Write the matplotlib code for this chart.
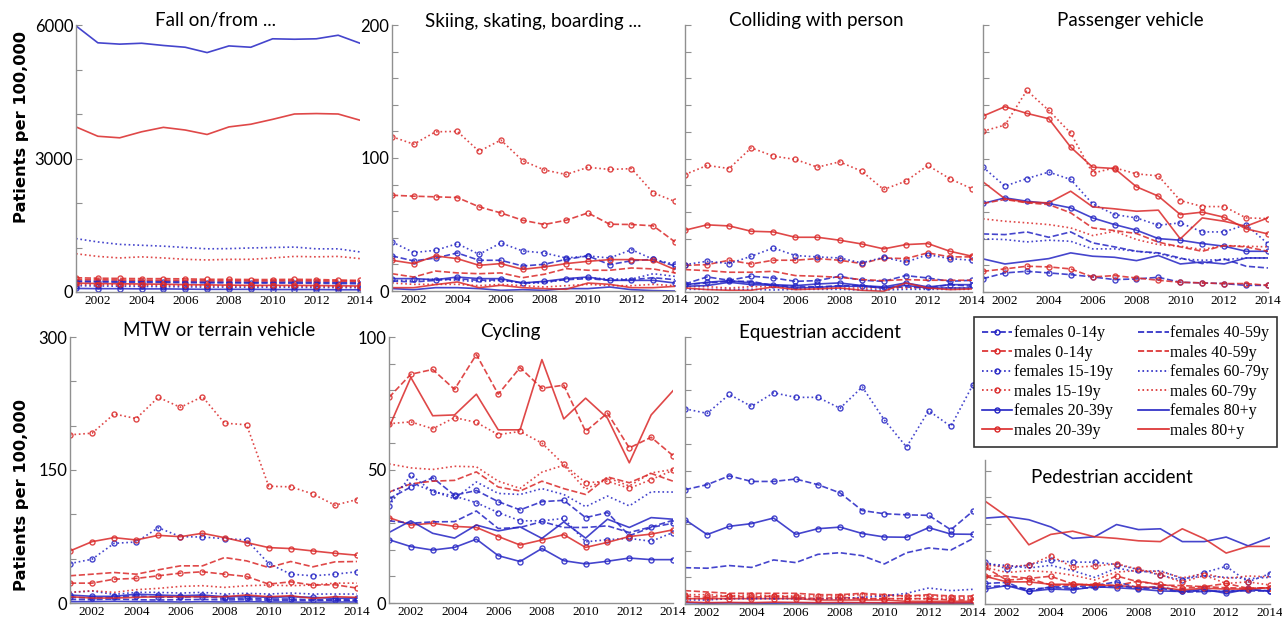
import numpy as np
import matplotlib
matplotlib.use('Agg')
import matplotlib.pyplot as plt
from matplotlib.lines import Line2D

# Years on the x axis
years = np.arange(2001, 2015)

# Series order: f 0-14, m 0-14, f 15-19, m 15-19, f 20-39, m 20-39,
#               f 40-59, m 40-59, f 60-79, m 60-79, f 80+, m 80+
labels = ['females 0-14y', 'males 0-14y', 'females 15-19y', 'males 15-19y',
          'females 20-39y', 'males 20-39y', 'females 40-59y', 'males 40-59y',
          'females 60-79y', 'males 60-79y', 'females 80+y', 'males 80+y']

fall = [
    [230, 225, 220, 215, 215, 210, 205, 205, 200, 200, 200, 195, 190, 185],
    [320, 310, 305, 300, 300, 295, 285, 285, 280, 280, 285, 280, 270, 260],
    [140, 135, 130, 125, 120, 115, 110, 110, 105, 105, 105, 100, 100, 95],
    [170, 165, 160, 155, 150, 145, 140, 135, 135, 130, 130, 125, 120, 115],
    [80, 75, 75, 70, 70, 65, 60, 60, 60, 55, 55, 55, 50, 50],
    [200, 190, 185, 180, 175, 165, 160, 155, 150, 150, 150, 145, 140, 135],
    [250, 245, 240, 240, 235, 230, 225, 225, 220, 220, 225, 220, 215, 210],
    [280, 275, 270, 265, 265, 260, 255, 255, 250, 250, 255, 250, 245, 240],
    [1200, 1125, 1070, 1050, 1030, 1000, 970, 975, 990, 1000, 1010, 970, 970, 900],
    [860, 800, 765, 790, 765, 735, 720, 735, 735, 765, 800, 790, 800, 750],
    [5980, 5600, 5570, 5590, 5540, 5500, 5380, 5530, 5500, 5690, 5680, 5690, 5770, 5590],
    [3710, 3500, 3465, 3600, 3700, 3640, 3540, 3710, 3770, 3880, 4000, 4010, 4000, 3860],
]

skiing = [
    [26.4, 22.6, 24.8, 28.6, 23.1, 23.1, 18.8, 20.1, 23.8, 26.4, 19.8, 22.8, 23.8, 18.8],
    [72, 71.3, 70.8, 70.3, 63.3, 58.7, 53.2, 50, 53.2, 58.7, 50.2, 50, 49, 36.9],
    [36.9, 28.9, 30.6, 35.6, 27.6, 36.1, 30.1, 28.6, 24.8, 26.4, 24.8, 31.1, 23.8, 20.1],
    [116, 110.4, 119.7, 120, 105, 113.5, 98, 91, 87.6, 93, 91.4, 92, 73.8, 67.3],
    [9.3, 9.3, 8.5, 10.5, 9.3, 9.3, 6, 7.3, 9.3, 10.5, 8, 8, 8, 6],
    [23.1, 20.6, 26.4, 24.3, 19.3, 20.6, 16.3, 18.1, 20.6, 22.3, 23.6, 23.6, 23.1, 16.1],
    [7.5, 6.8, 8, 9.3, 8, 8.5, 6, 6.8, 8.5, 9.3, 8, 8.5, 10, 8.5],
    [13, 10.5, 15, 13.6, 13, 13.6, 10, 12.6, 16.8, 15.6, 15.6, 17.3, 16.6, 13.6],
    [8, 8, 9, 8, 7, 8, 6, 6, 9, 10, 9, 9, 13, 11],
    [6, 5, 5, 5, 4, 5, 4, 3, 4, 5, 4, 4, 5, 4],
    [1.8, 1, 2.5, 2.5, 1.8, 0.5, 1, 0.5, 1.8, 1.8, 3, 1, 0.3, 0],
    [2.5, 2.5, 4.8, 6.8, 2.5, 4.3, 2.5, 1.8, 1.3, 6, 5, 2.5, 2.5, 3.5],
]

colliding = [
    [6, 11.3, 8.8, 11.8, 10.5, 8, 8.5, 11.8, 8.8, 8, 12.3, 10.5, 8, 8.8],
    [20, 20.5, 23.8, 21, 23.8, 23.8, 25, 23.8, 21.3, 25.5, 25, 29.3, 26.3, 26.3],
    [20.5, 23, 21.3, 26.8, 33, 27.3, 26.3, 25.5, 21.8, 26, 22.3, 28, 25, 23.8],
    [88, 94.8, 92.5, 108, 101.8, 99.3, 93.5, 97.5, 90.5, 76.8, 83, 94.8, 84.8, 77.3],
    [5.5, 7.3, 8.5, 6.8, 5.5, 4.8, 6, 6.8, 4.8, 3.8, 6.8, 3.8, 5.5, 5.5],
    [46.3, 50.3, 49.5, 45.5, 45, 41, 41, 38.8, 36, 32.3, 35.5, 36.3, 30.5, 26.8],
    [5.5, 6.8, 8, 8, 4.8, 4.3, 3.8, 4.8, 4.8, 3, 3.8, 3, 5.5, 4.3],
    [16.8, 16, 14.8, 14.8, 15.5, 12.3, 11.8, 11, 9.3, 8.5, 9.3, 8.8, 8.8, 8.8],
    [2, 2, 2, 2, 1.5, 2, 2, 2, 1.5, 1.5, 2, 2, 2, 2],
    [4, 4, 3, 4, 4, 3, 3, 3, 3, 3, 3, 3, 3, 3],
    [4.3, 4.8, 7.3, 5.5, 5, 3, 3.5, 4.3, 4.3, 3, 5, 3, 3, 3],
    [3, 1.8, 1.3, 1.3, 3.8, 1.8, 2.3, 3, 1.3, 0.5, 6.8, 3, 1.8, 2.3],
]

passenger = [
    [10, 14.3, 15.5, 14.3, 13, 11.3, 9.3, 9.8, 11, 7.3, 6.8, 6.3, 5, 5],
    [15.5, 17.3, 19.3, 18.8, 17.3, 11.3, 12.3, 10.5, 8.8, 7.3, 6.8, 6.3, 6.3, 5],
    [93.5, 79.3, 85, 89.8, 84.3, 66, 58, 55.5, 50, 51.8, 45, 45, 50.5, 36],
    [120.5, 125, 151, 136, 119, 89, 93, 88.5, 87, 68.5, 64, 64, 55.5, 55],
    [66.3, 70.5, 68, 66.3, 63, 55.5, 50.5, 46.3, 40, 38.8, 36.3, 34.3, 30.5, 30.5],
    [131.8, 138.8, 133.8, 129.8, 108.5, 93.5, 92.5, 78.8, 71.8, 58, 59.8, 56, 47.3, 43.5],
    [43.5, 43, 45, 41, 45, 36.8, 33.8, 30.5, 29.3, 25.5, 21.3, 24.8, 19.3, 18],
    [66.3, 69.3, 66.8, 65.5, 59.3, 48, 46, 43.8, 37.3, 33.8, 30.5, 34.8, 33.8, 30.5],
    [39.8, 39.3, 37.5, 38.8, 38, 32.3, 32.3, 30.5, 28.8, 24.8, 23.8, 24.3, 25.5, 25.5],
    [54.8, 53, 51.8, 50.5, 48, 42.3, 45.5, 39.3, 35.5, 34.3, 31.8, 34.8, 34.3, 33.8],
    [24.8, 21, 23, 25, 29.3, 26.8, 26, 23.5, 27.3, 21, 22.5, 21, 25.5, 25.5],
    [82.5, 69.8, 67.3, 66.8, 75.5, 63.8, 62.3, 60.5, 61.3, 39.8, 55.5, 53, 49.3, 55.5],
]

mtw = [
    [6.5, 5.6, 6.5, 8.2, 6.5, 6.5, 7.1, 5.2, 5.6, 4.5, 4.5, 3.7, 3.7, 3.4],
    [22.4, 22.4, 26.9, 27.7, 30.7, 33.7, 35.2, 32.5, 29.9, 21.3, 23.9, 20.2, 20.6, 16.8],
    [44.5, 49.4, 67.3, 68.8, 84.9, 74.8, 74.4, 72.6, 71.1, 44.5, 32.5, 30.7, 32.5, 35.2],
    [189.7, 191.5, 213.2, 208, 232, 220.7, 232.7, 202.8, 201, 131.7, 131, 123, 110.3, 116.7],
    [9, 7.5, 7.5, 10, 9, 8.2, 9, 7, 7.5, 6.4, 7, 6.4, 5.2, 5.6],
    [58.7, 69.2, 73.7, 71.1, 76.3, 74.8, 78.6, 73.7, 68.1, 62.5, 61.4, 58.7, 56.1, 53.9],
    [4, 3.7, 4.5, 3.7, 3.4, 3.7, 4, 3.4, 3.7, 3, 3, 2.6, 3, 2.6],
    [30.7, 32.5, 34.4, 32.5, 37.4, 41.9, 41.9, 51.3, 47.5, 40, 46.8, 40.8, 46.4, 46.8],
    [12, 13.5, 9.7, 12, 12, 11.2, 12, 10.1, 10.9, 10.1, 11.2, 10.1, 10.1, 10.1],
    [12, 13.8, 12, 15, 16.5, 18.7, 19.5, 17.6, 19.5, 20.2, 19.5, 20.2, 22.4, 22.4],
    [1.5, 1.5, 1.9, 1.5, 1.5, 1.1, 1.5, 1.1, 1.5, 1.1, 1.1, 0.7, 1.1, 1.1],
    [7.1, 5.6, 5.6, 6.4, 7.1, 7.1, 7.1, 7.1, 9, 7.1, 8.2, 5.2, 7.1, 6.4],
]

cycling = [
    [39.2, 43.6, 47.1, 40.5, 42.3, 38.1, 35, 38.1, 38.6, 32.1, 34, 25.3, 28.4, 30],
    [77.3, 86, 87.8, 80.3, 93.4, 78.5, 88.5, 80.7, 81.9, 64.5, 71.4, 58.3, 62.3, 55.4],
    [36.5, 48.1, 41.9, 40.2, 37.7, 34, 30.9, 30.9, 31.8, 23, 23.8, 24.3, 23.2, 26.5],
    [67.4, 68.1, 65.5, 69.7, 67.9, 63.3, 64.5, 60.1, 52.1, 45.2, 45.8, 43.1, 46.4, 49.9],
    [23.8, 21.2, 19.9, 20.9, 24, 17.8, 15.6, 20.5, 15.9, 14.7, 15.7, 16.9, 16.3, 16.3],
    [32.1, 29.3, 30, 28.8, 28.4, 25, 21.8, 23.7, 25.7, 20.9, 22.8, 25, 25.9, 27.5],
    [30.9, 30, 30.5, 30.6, 34.6, 28, 28.4, 30.6, 28.4, 28.4, 29, 26.5, 28.6, 31.1],
    [41.7, 44.8, 45.8, 46.1, 49.3, 43.6, 42.1, 45.8, 43, 40.8, 47.4, 45.2, 48.7, 45.8],
    [41.5, 45.2, 42.1, 39.2, 45.5, 41.2, 40.8, 43, 40.8, 36.2, 40.2, 36.5, 41.8, 41.7],
    [52.3, 50.8, 50.2, 51.4, 51.2, 45.8, 43.1, 49.2, 51.8, 42.7, 47.1, 44, 48.9, 50.2],
    [26.5, 30.9, 26.2, 24.4, 29.3, 27.1, 28.6, 24.3, 30.5, 24.4, 31.5, 28.4, 32.1, 31.5],
    [66, 84.8, 70.4, 70.7, 78.5, 65.1, 65.1, 91.5, 69.2, 77, 69.5, 52.7, 70.7, 79.8],
]

equestrian = [
    [42.8, 44.7, 48, 45.9, 45.9, 46.8, 44.7, 41.6, 35, 33.8, 33.4, 33.2, 27.8, 34.8],
    [3, 2.5, 3, 2.5, 3, 2.5, 2, 2.5, 2, 2, 2, 2, 1.5, 1.5],
    [73.1, 71.4, 78.5, 74, 79.1, 77.4, 77.4, 73.3, 81.3, 68.9, 58.8, 72.4, 66.5, 82.2],
    [3.5, 3.5, 3, 3.5, 3, 3, 3, 3, 3.5, 3, 3, 3, 2.5, 2.5],
    [31.6, 26, 29.1, 30.1, 32.2, 26.1, 28.2, 28.8, 26.4, 25.1, 25, 28.6, 26.2, 26.1],
    [2, 2, 2, 2, 2, 2, 1.5, 1.5, 1.5, 1.5, 1, 1, 1, 1],
    [13.6, 13.4, 14.4, 13.7, 16.5, 15.5, 18.6, 19.2, 18.1, 15, 19.2, 21, 20.2, 24.5],
    [5, 4.5, 4, 4, 4, 4, 3.5, 3.5, 4, 3.5, 3, 3.5, 3, 3],
    [1.5, 1.5, 2, 2, 2, 2, 2, 2, 2.5, 3, 4, 6, 5, 5.5],
    [2, 2, 2, 2.5, 2.5, 2, 2, 2, 2, 2, 2, 2, 2, 2],
    [0.5, 0.3, 0.4, 0.3, 0.3, 0.4, 0.3, 0.3, 0.4, 0.3, 0.3, 0.3, 0.3, 0.3],
    [0.8, 0.5, 0.6, 0.5, 0.7, 0.6, 0.5, 0.6, 0.5, 0.5, 0.4, 0.5, 0.4, 0.5],
]

pedestrian = [
    [7.7, 8.1, 4.7, 6.5, 6.5, 6.9, 8.3, 6.1, 6.5, 4.7, 4.9, 4.7, 5.3, 5],
    [13.8, 8.9, 9.6, 10.4, 7.5, 7.1, 10.5, 8.3, 7.5, 5.9, 6.5, 7.7, 5.9, 6.1],
    [15.7, 13.2, 14.7, 16.5, 15.7, 15.7, 14.8, 12.9, 10.8, 8.9, 11.8, 14.1, 8.3, 11.4],
    [14.5, 14.1, 14.5, 18.1, 13.8, 14.2, 15.1, 13, 11, 8.1, 10.8, 7.7, 8.3, 7.1],
    [5.6, 6.9, 4.7, 5.6, 5.3, 6.5, 6.1, 5.6, 4.9, 4.7, 5.5, 4, 5.6, 4.7],
    [10.4, 8.3, 8.3, 7.4, 7.4, 7.1, 6.9, 6.4, 6.1, 5.3, 5.9, 5.6, 5.6, 6.1],
    [6.5, 6.9, 5.6, 6.1, 5.9, 6.1, 6.9, 5.9, 5.9, 4.4, 4.7, 4.9, 4.9, 4.9],
    [10.5, 10.5, 9.6, 7.1, 7.1, 7.4, 6.9, 8.6, 7.1, 6.9, 6.5, 6.1, 5.9, 6.1],
    [15, 14.5, 13.5, 14.5, 12.5, 10, 13.5, 12, 12.5, 9.5, 10.5, 10, 9.5, 10],
    [13.8, 11.8, 12.5, 12, 10.8, 9, 12, 12.5, 12.2, 9.8, 11.4, 9.6, 10.5, 10.2],
    [32.2, 32.8, 31.6, 28.9, 24.6, 25.2, 29.8, 27.9, 28.2, 23.4, 23.4, 25.1, 21.8, 24.9],
    [38.6, 32.8, 22.2, 26.1, 27.3, 25.2, 24.6, 23.7, 23.4, 28.2, 24.5, 19.1, 21.6, 21.6],
]

# Line styles for the 12 series
blue = '#2424c4'
red = '#da2828'
colors = [blue, red] * 6
lstyles = ['--', '--', ':', ':', '-', '-', '--', '--', ':', ':', '-', '-']
markers = ['o'] * 6 + [None] * 6

W, H = 1282, 620
fig = plt.figure(figsize=(W / 100, H / 100), dpi=100)

def add_panel(left, right, top, bottom):
    return fig.add_axes([left / W, 1 - bottom / H, (right - left) / W, (bottom - top) / H])

def draw(ax, data, ymax, yticks, ylabels, title, tx, ty=1.015):
    for i in range(12):
        ax.plot(years, data[i], color=colors[i], linestyle=lstyles[i], marker=markers[i],
                markersize=3.6, markerfacecolor='none', markeredgewidth=1.0,
                linewidth=1.2, alpha=0.85)
    ax.set_xlim(2001, 2014)
    ax.set_ylim(0, ymax)
    ax.set_xticks(np.arange(2002, 2015, 2))
    ax.set_xticklabels([str(y) for y in range(2002, 2015, 2)],
                       family='Liberation Serif', fontsize=9.5)
    ax.set_yticks(yticks)
    if ylabels is None:
        ax.set_yticklabels([])
    else:
        ax.set_yticklabels(ylabels, family='Lato', fontsize=12)
    for s in ['top', 'right']:
        ax.spines[s].set_visible(False)
    for s in ['left', 'bottom']:
        ax.spines[s].set_color('#909090')
        ax.spines[s].set_linewidth(1.0)
    ax.tick_params(axis='y', direction='in', length=4, color='#909090', pad=2)
    ax.tick_params(axis='x', length=0, pad=2)
    ax.patch.set_alpha(0)
    ax.text(tx, ty, title, transform=ax.transAxes, ha='center', va='center',
            family='Lato', fontsize=13.5)

# Top row
a1 = add_panel(76, 360, 25, 292)
draw(a1, fall, 6000, np.arange(0, 6001, 1000), ['0', '', '', '3000', '', '', '6000'],
     'Fall on/from ...', 0.49)
a2 = add_panel(392, 675, 25, 291)
draw(a2, skiing, 200, np.arange(0, 201, 20), ['0', '', '', '', '', '100', '', '', '', '', '200'],
     'Skiing, skating, boarding ...', 0.50)
a3 = add_panel(685, 972, 25, 292)
draw(a3, colliding, 200, np.arange(0, 201, 20), None, 'Colliding with person', 0.456)
a4 = add_panel(983, 1268, 25, 292)
draw(a4, passenger, 200, np.arange(0, 201, 20), None, 'Passenger vehicle', 0.518)

# Bottom row
b1 = add_panel(70, 357, 337, 603)
draw(b1, mtw, 300, np.arange(0, 301, 50), ['0', '', '', '150', '', '', '300'],
     'MTW or terrain vehicle', 0.52, 1.024)
b2 = add_panel(389, 673, 337, 603)
draw(b2, cycling, 100, np.arange(0, 101, 10), ['0', '', '', '', '', '50', '', '', '', '', '100'],
     'Cycling', 0.426, 1.02)
b3 = add_panel(685, 973, 337, 604)
draw(b3, equestrian, 100, np.arange(0, 101, 10), None, 'Equestrian accident', 0.469, 1.015)
b4 = add_panel(985, 1270, 460, 604)
draw(b4, pedestrian, 54, np.arange(0, 51, 10), None, 'Pedestrian accident', 0.445, 0.877)

# Legend
handles = [Line2D([0], [0], color=colors[i], linestyle=lstyles[i], marker=markers[i],
                  markersize=3.6, markerfacecolor='none', markeredgewidth=1.0,
                  linewidth=1.2) for i in range(12)]
leg = fig.legend(handles, labels, ncol=2, loc='center',
                 bbox_to_anchor=(976 / W, 1 - 451 / H, 299 / W, 138 / H),
                 prop={'family': 'Liberation Serif', 'size': 11.5},
                 frameon=True, fancybox=False, edgecolor='black',
                 handlelength=1.9, handletextpad=0.1, columnspacing=1.6,
                 labelspacing=0.22, borderpad=0.5)
leg.get_frame().set_linewidth(1.2)

# Y labels, sized to fit the reference length
renderer = fig.canvas.get_renderer()
for yc in [127, 495]:
    t = fig.text(22 / W, 1 - yc / H, 'Patients per 100,000', rotation=90,
                 ha='center', va='center', fontweight='heavy', fontsize=14,
                 family=['Liberation Sans Narrow', 'DejaVu Sans'])
    h = t.get_window_extent(renderer=renderer).height
    t.set_fontsize(14 * 192 / h)

fig.savefig('out.png', dpi=100)
